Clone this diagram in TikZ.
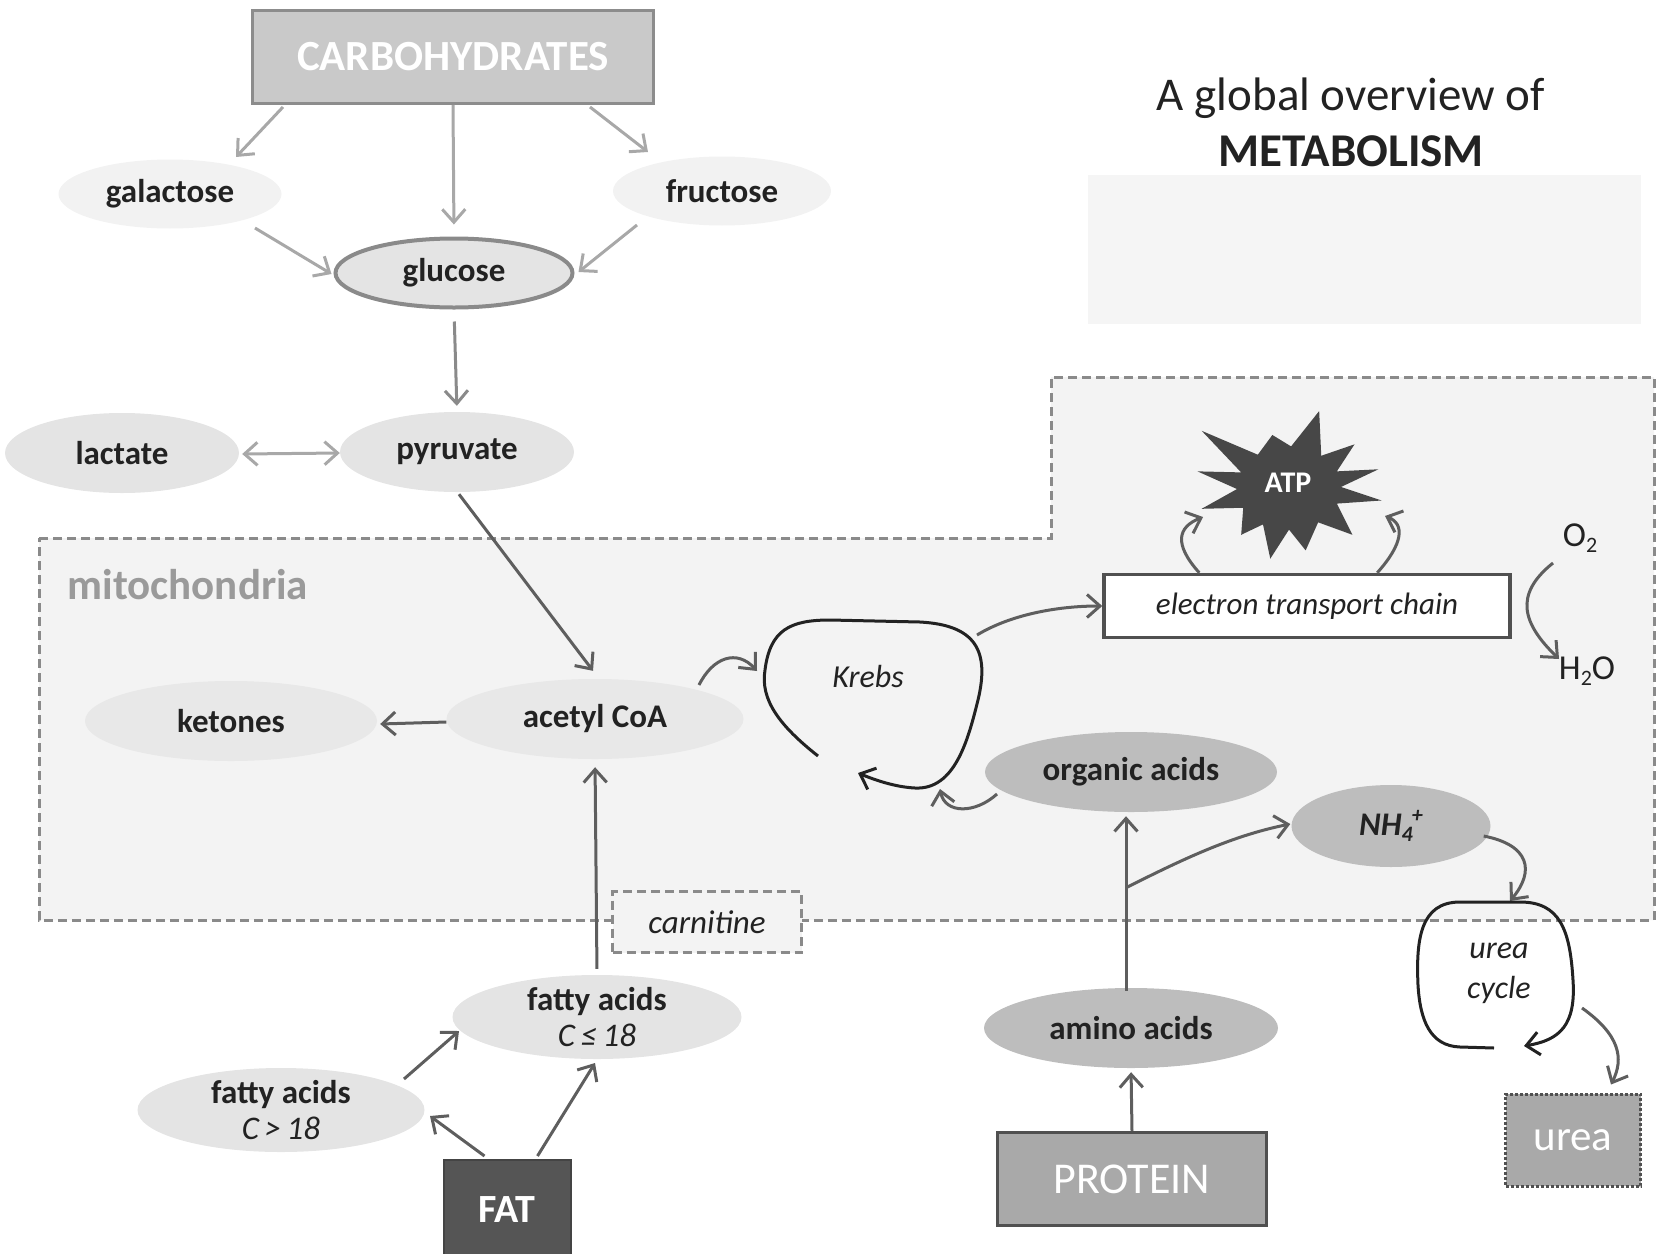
\documentclass[tikz,border=0pt]{standalone}
\usepackage{fontspec}
\setmainfont{Carlito}
\usetikzlibrary{arrows.meta,shapes.geometric,calc}

\definecolor{ink}{HTML}{222222}
\definecolor{darkline}{HTML}{5E5E5E}
\definecolor{midline}{HTML}{8A8A8A}
\definecolor{paleline}{HTML}{A8A8A8}
\definecolor{mitofill}{HTML}{F3F3F3}
\definecolor{faintblob}{HTML}{F2F2F2}
\definecolor{lightblob}{HTML}{E4E4E4}
\definecolor{midblob}{HTML}{BDBDBD}
\definecolor{boxgray}{HTML}{A9A9A9}
\definecolor{boxline}{HTML}{505050}
\definecolor{carbfill}{HTML}{C9C9C9}
\definecolor{carbline}{HTML}{8C8C8C}
\definecolor{fatfill}{HTML}{555555}
\definecolor{starfill}{HTML}{474747}
\definecolor{mitotext}{HTML}{9A9A9A}

\newcommand\lblfont{\fontsize{33}{36}\selectfont}
\newcommand\smallidx{\fontsize{22}{22}\selectfont}

\begin{document}
\begin{tikzpicture}[x=1pt,y=-1pt,
  every node/.style={text=ink},
  lbl/.style={font=\lblfont\bfseries},
  blob/.style={ellipse, inner sep=0pt, lbl},
  sq/.style={rectangle, inner sep=0pt},
  conn/.style={draw=darkline, line width=3pt,
    -{Straight Barb[length=13pt,width=23pt]}},
  paleconn/.style={conn, draw=paleline},
  midconn/.style={conn, draw=midline},
  loopline/.style={draw=ink, line width=3pt},
  mitoline/.style={draw=midline, line width=3pt, dash pattern=on 9pt off 5pt}]

\useasboundingbox (0,0) rectangle (1665,1253);

% faded block under the title
\fill[gray!8] (1088,175) rectangle (1641,324);

% mitochondrial compartment
\draw[mitoline, fill=mitofill] (39,538) -- (1051,538) -- (1051,377) -- (1654,377)
  -- (1654,920) -- (39,920) -- cycle;
\node[anchor=west, font=\fontsize{43}{46}\selectfont\bfseries, text=mitotext]
  (mito) at (64,585) {mitochondria};

% title
\node[font=\fontsize{47}{56}\selectfont, align=center] (title) at (1351,122)
  {A global overview of\\\textbf{METABOLISM}};

% carbohydrate branch
\node[sq, fill=carbfill, draw=carbline, line width=3pt, minimum width=401pt,
  minimum height=93pt, font=\fontsize{43}{46}\selectfont\bfseries, text=white]
  (carb) at (453,57) {CARBOHYDRATES};
\node[blob, fill=faintblob, minimum width=223pt, minimum height=69pt]
  (galactose) at (170,194) {galactose};
\node[blob, fill=faintblob, minimum width=218pt, minimum height=69pt]
  (fructose) at (722,191) {fructose};
\node[blob, fill=lightblob, draw=midline, line width=4pt, minimum width=237pt,
  minimum height=69pt] (glucose) at (454,273) {glucose};
\node[blob, fill=lightblob, minimum width=234pt, minimum height=80pt]
  (pyruvate) at (457,452) {pyruvate};
\node[blob, fill=lightblob, minimum width=234pt, minimum height=80pt]
  (lactate) at (122,453) {lactate};

% acetyl CoA and fat branch
\node[blob, fill=lightblob!70!mitofill, minimum width=292pt, minimum height=80pt]
  (ketones) at (231,721) {ketones};
\node[blob, fill=lightblob!70!mitofill, minimum width=297pt, minimum height=80pt]
  (acetyl) at (595,719) {acetyl CoA};
\node[sq, fill=mitofill, draw=midline, line width=3pt, dash pattern=on 9pt off 5pt,
  minimum width=189pt, minimum height=61pt, font=\fontsize{33}{36}\selectfont\itshape]
  (carnitine) at (707,922) {carnitine};
\node[blob, fill=lightblob, minimum width=289pt, minimum height=84pt, align=center,
  font=\fontsize{33}{36}\selectfont\bfseries]
  (fa18) at (597,1017) {fatty acids\\{\mdseries\itshape C\,≤\,18}};
\node[blob, fill=lightblob, minimum width=287pt, minimum height=80pt, align=center,
  font=\fontsize{33}{36}\selectfont\bfseries]
  (fagt) at (281,1110) {fatty acids\\{\mdseries\itshape C\,>\,18}};
\node[sq, fill=fatfill, draw=fatfill!80!black, line width=2pt, minimum width=127pt,
  minimum height=100pt, font=\fontsize{40}{44}\selectfont\bfseries, text=white]
  (fat) at (507,1210) {FAT};

% Krebs cycle and respiration
\node[font=\fontsize{32}{36}\selectfont\itshape] (krebs) at (868,676) {Krebs};
\node[sq, fill=white, draw=boxline, line width=3.5pt, minimum width=406pt,
  minimum height=63pt, font=\fontsize{31}{34}\selectfont\itshape]
  (etc) at (1307,606) {electron transport chain};
\fill[starfill, shift={(1289,488)}, scale=1.04]
  (29,-74) -- (31,-31) -- (63,-42) -- (46,-16) -- (86,-18) -- (50,-1)
  -- (89,12) -- (46,15) -- (61,45) -- (28,33) -- (16,60) -- (0,40)
  -- (-18,68) -- (-25,35) -- (-46,45) -- (-44,19) -- (-84,20) -- (-50,1)
  -- (-88,-16) -- (-46,-15) -- (-84,-55) -- (-30,-32) -- (-16,-51) -- (2,-40)
  -- cycle;
\node[font=\fontsize{30}{32}\selectfont\bfseries, text=white] (atp) at (1288,483) {ATP};
\node[font=\fontsize{35}{38}\selectfont] (o2) at (1580,538) {O\raisebox{-0.35ex}{\smallidx 2}};
\node[font=\fontsize{35}{38}\selectfont] (h2o) at (1587,671) {H\raisebox{-0.35ex}{\smallidx 2}O};

% protein branch
\node[blob, fill=midblob, minimum width=292pt, minimum height=80pt]
  (orgacids) at (1131,772) {organic acids};
\node[blob, fill=midblob, minimum width=294pt, minimum height=80pt]
  (amino) at (1131,1028) {amino acids};
\node[blob, fill=midblob, minimum width=199pt, minimum height=82pt,
  font=\lblfont\bfseries\itshape]
  (nh4) at (1391,826) {NH\raisebox{-0.35ex}{\smallidx 4}\kern-1pt\raisebox{0.8ex}{\smallidx +}};
\node[sq, fill=boxgray, draw=boxline, line width=3.5pt, minimum width=269pt,
  minimum height=93pt, font=\fontsize{44}{46}\selectfont, text=white]
  (protein) at (1132,1179) {PROTEIN};
\node[align=center, font=\fontsize{32}{40}\selectfont\itshape]
  (ucycle) at (1499,973) {urea\\cycle};
\node[sq, fill=boxgray, draw=boxline, line width=3pt, dotted, minimum width=135pt,
  minimum height=92pt, font=\fontsize{43}{46}\selectfont, text=white]
  (urea) at (1573,1140) {urea};

% carbohydrate connectors
\draw[paleconn] ($(carb.south west)+(32,2)$) -- ($(galactose)+(66,-37)$);
\draw[paleconn, shorten >=12pt] (carb.south) -- (glucose.north);
\draw[paleconn] ($(carb.south east)+(-65,2)$) -- ($(fructose)+(-74,-39)$);
\draw[paleconn] ($(galactose)+(85,34)$) -- ($(glucose.west)+(-2,1)$);
\draw[paleconn] ($(fructose)+(-85,34)$) -- ($(glucose.east)+(4,-1)$);
\draw[midconn, shorten <=12pt, shorten >=6pt] (glucose.south) -- (pyruvate.north);
\draw[paleconn, {Straight Barb[length=13pt,width=23pt]}-{Straight Barb[length=13pt,width=23pt]}]
  ($(lactate.east)+(3,1)$) -- ($(pyruvate.west)+(0,1)$);
\draw[conn] ($(pyruvate.south)+(2,2)$) -- ($(acetyl.north)+(-2,-8)$);

% acetyl CoA and fat connectors
\draw[conn] ($(acetyl.west)+(0,3)$) -- ($(ketones.east)+(3,3)$);
\draw[conn, shorten <=6pt, shorten >=8pt] (fa18.north) -- (acetyl.south);
\draw[conn] ($(fagt)+(123,-31)$) -- ($(fa18)+(-138,14)$);
\draw[conn] ($(fat.north west)+(42,-3)$) -- ($(fagt)+(149,6)$);
\draw[conn] ($(fat.north west)+(95,-3)$) -- ($(fa18)+(-2,46)$);
\draw[conn] ($(acetyl)+(104,-34)$) .. controls +(14,-28) and +(-20,-22) .. ($(krebs)+(-111,-5)$);

% Krebs loop
\draw[loopline, -{Straight Barb[length=13pt,width=23pt]}, shift={(krebs.center)}]
  (-50,80) .. controls (-88,50) and (-108,24) .. (-103,-6)
  .. controls (-98,-46) and (-78,-56) .. (-38,-56) -- (52,-54)
  .. controls (107,-51) and (122,-26) .. (110,24)
  .. controls (100,64) and (87,114) .. (47,112)
  .. controls (27,111) and (7,104) .. (-10,97);

% respiration connectors
\draw[conn] ($(krebs)+(109,-41)$) .. controls +(33,-20) and +(-46,0) .. (etc.west);
\draw[conn] ($(orgacids)+(-134,22)$) .. controls +(-22,20) and +(5,25) .. ($(krebs)+(72,113)$);
\draw[conn] ($(etc.north west)+(97,0)$) .. controls +(-26,-29) and +(-25,10) .. ($(atp)+(-85,34)$);
\draw[conn] ($(etc.north west)+(275,0)$) .. controls +(26,-29) and +(20,8) .. ($(atp)+(97,33)$);
\draw[conn] ($(o2)+(-27,25)$) .. controls +(-40,32) and +(-36,-35) .. ($(h2o)+(-28,-12)$);

% protein connectors
\draw[conn, shorten >=4pt] (protein.north) -- (amino.south);
\coordinate (branch) at ($(amino.north)!0.57!(orgacids.south)+(-5,0)$);
\draw[conn, shorten >=4pt] ($(amino.north)+(-5,3)$) -- ($(orgacids.south)+(-5,0)$);
\draw[conn] (branch) .. controls +(54,-27) and +(-60,12) .. ($(nh4.west)+(-1,-2)$);
\draw[conn] ($(nh4.east)+(-7,10)$) .. controls +(46,9) and +(25,-30) .. ($(ucycle)+(11,-72)$);

% urea cycle loop
\draw[loopline, -{Straight Barb[length=13pt,width=23pt]}, shift={(ucycle.center)}]
  (-5,75) -- (-39,74) .. controls (-69,73) and (-79,47) .. (-81,12)
  .. controls (-83,-33) and (-79,-71) .. (-39,-71) -- (21,-71)
  .. controls (61,-71) and (71,-43) .. (74,7)
  .. controls (77,52) and (61,67) .. (25,73);
\draw[conn] ($(ucycle)+(83,35)$) .. controls +(38,27) and +(13,-26) .. ($(urea.north)+(38,-8)$);

\end{tikzpicture}
\end{document}
